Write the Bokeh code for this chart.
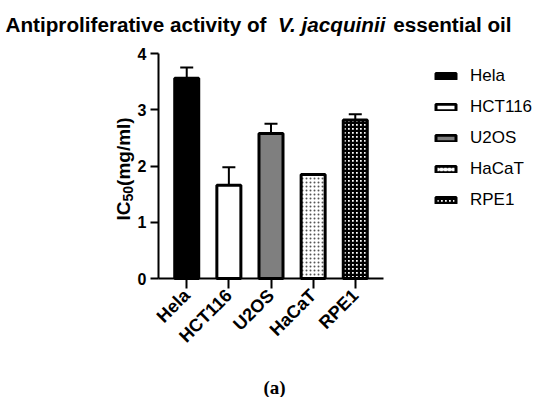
import math
from bokeh.plotting import figure
from bokeh.models import (Range1d, ColumnDataSource, Whisker, TeeHead, Legend,
                          LegendItem, Label, FixedTicker, LinearAxis)
from bokeh.embed import file_html
from bokeh.resources import INLINE

# ---- data ----
cells = ["Hela", "HCT116", "U2OS", "HaCaT", "RPE1"]
ic50 = [3.56, 1.66, 2.58, 1.85, 2.82]
ic50_err = [0.19, 0.32, 0.17, 0.0, 0.10]
y_ticks = [0, 1, 2, 3, 4]

title_a = "Antiproliferative activity of "
title_b = "V. jacquinii"
title_c = "essential oil"
panel_tag = "(a)"

# ---- styles ----
fills = ["black", "white", "#7f7f7f", "white", "white"]
hatches = [" ", " ", " ", ".", "+"]
hatch_colors = ["black", "black", "black", "#555555", "black"]
hatch_weights = [1, 1, 1, 1.4, 2.5]
SANS = "Liberation Sans"

W, H = 550, 397
OFF = 0  # page offset of the canvas
# where the axis box should sit on the page (px)
AL, AR, AT, AB = 158, 383, 53, 278
XA0, XA1 = 0.33, 5.67   # x extent of the axis box (data)
YA0, YA1 = 0, 4
sx = (AR - AL) / (XA1 - XA0)
sy = (AB - AT) / (YA1 - YA0)
X0 = XA0 - (AL - OFF) / sx
X1 = XA1 + (OFF + W - AR) / sx
Y1 = YA1 + (AT - OFF) / sy
Y0 = YA0 - (OFF + H - AB) / sy


def dx(px_page):
    return XA0 + (px_page - AL) / sx


def dy(py_page):
    return YA0 + (AB - py_page) / sy


xs = list(range(1, len(cells) + 1))

p = figure(width=W, height=H, x_range=Range1d(X0, X1), y_range=Range1d(Y0, Y1),
           output_backend="svg", toolbar_location=None,
           x_axis_type=None, y_axis_type=None,
           min_border=0)
p.outline_line_color = None
p.background_fill_color = "white"
p.border_fill_color = "white"

src = ColumnDataSource(dict(x=xs, top=ic50, fill=fills, hatch=hatches,
                            hcol=hatch_colors, hw=hatch_weights))
r = p.vbar(x="x", top="top", width=0.57, source=src, fill_color="fill",
           line_color="black", line_width=3, hatch_pattern="hatch",
           hatch_color="hcol", hatch_scale=4, hatch_weight="hw")

ex = [x for x, e in zip(xs, ic50_err) if e > 0]
elo = [v for v, e in zip(ic50, ic50_err) if e > 0]
ehi = [v + e for v, e in zip(ic50, ic50_err) if e > 0]
esrc = ColumnDataSource(dict(base=ex, lower=elo, upper=ehi))
wh = Whisker(base="base", lower="lower", upper="upper", source=esrc,
             dimension="height", line_color="black", line_width=2,
             upper_head=TeeHead(size=13, line_width=2, line_color="black"),
             lower_head=None, level="glyph")
p.add_layout(wh)

# axes
xa = LinearAxis(fixed_location=YA0, bounds=(XA0, XA1))
xa.ticker = FixedTicker(ticks=xs)
xa.major_label_overrides = {x: c for x, c in zip(xs, cells)}
xa.major_label_orientation = math.pi / 4
xa.major_tick_out = 10
xa.major_tick_in = 0
xa.minor_tick_out = 0
xa.minor_tick_in = 0
xa.axis_line_width = 2
xa.major_tick_line_width = 2
xa.major_label_text_font = SANS
xa.major_label_text_font_style = "bold"
xa.major_label_text_font_size = "18px"
xa.major_label_text_color = "black"
xa.major_label_standoff = 4
p.add_layout(xa, "below")

ya = LinearAxis(fixed_location=XA0, bounds=(YA0, YA1))
ya.ticker = FixedTicker(ticks=y_ticks)
ya.major_tick_out = 8
ya.major_tick_in = 0
ya.minor_tick_out = 0
ya.minor_tick_in = 0
ya.axis_line_width = 2
ya.major_tick_line_width = 2
ya.major_label_text_font = SANS
ya.major_label_text_font_style = "bold"
ya.major_label_text_font_size = "16px"
ya.major_label_text_color = "black"
ya.major_label_standoff = 4
p.add_layout(ya, "left")

# legend (location in px from frame's bottom-left)
items = [LegendItem(label=c, renderers=[r], index=i) for i, c in enumerate(cells)]
leg = Legend(items=items, location=(433 - OFF, OFF + H - 210), glyph_width=25,
             glyph_height=8, label_height=20, spacing=11, label_standoff=12,
             padding=10, margin=0, border_line_color=None,
             background_fill_alpha=0, label_text_font=SANS,
             label_text_font_size="17px", label_text_color="black")
p.add_layout(leg)

# title pieces
TFS = 20.7
em_a = 13.17
em_b = 5.28 + 0.278
ta = 5
p.add_layout(Label(x=dx(ta), y=dy(24), text=title_a, text_font=SANS,
                   text_font_style="bold", text_font_size=f"{TFS}px",
                   text_color="black",
                   text_align="left", text_baseline="alphabetic"))
p.add_layout(Label(x=dx(ta + em_a * TFS), y=dy(24), text=title_b, text_font=SANS,
                   text_font_style="bold italic", text_font_size=f"{TFS}px",
                   text_color="black",
                   text_align="left", text_baseline="alphabetic"))
p.add_layout(Label(x=dx(ta + (em_a + em_b) * TFS), y=dy(24), text=title_c,
                   text_font=SANS, text_font_style="bold",
                   text_font_size=f"{TFS}px", text_color="black",
                   text_align="left", text_baseline="alphabetic"))

# y-axis label with subscript
YFS = 19
SFS = 14
yl_base = 123
y_start = 220
w_ic = 1.0 * YFS
w_50 = 1.112 * SFS
p.add_layout(Label(x=dx(yl_base), y=dy(y_start), text="IC", text_font=SANS,
                   text_font_style="bold", text_font_size=f"{YFS}px",
                   text_color="black", angle=math.pi / 2, text_align="left",
                   text_baseline="alphabetic"))
p.add_layout(Label(x=dx(yl_base + 4), y=dy(y_start - w_ic), text="50",
                   text_font=SANS, text_font_style="bold",
                   text_font_size=f"{SFS}px", text_color="black",
                   angle=math.pi / 2,
                   text_align="left", text_baseline="alphabetic"))
p.add_layout(Label(x=dx(yl_base), y=dy(y_start - w_ic - w_50), text="(mg/ml)",
                   text_font=SANS, text_font_style="bold",
                   text_font_size=f"{YFS}px", text_color="black",
                   angle=math.pi / 2,
                   text_align="left", text_baseline="alphabetic"))

# panel tag
p.add_layout(Label(x=dx(274), y=dy(387), text=panel_tag,
                   text_font="Liberation Serif", text_font_style="bold",
                   text_font_size="19px", text_color="black",
                   text_align="center", text_baseline="alphabetic"))

open("out.html", "w").write(file_html(p, INLINE))
